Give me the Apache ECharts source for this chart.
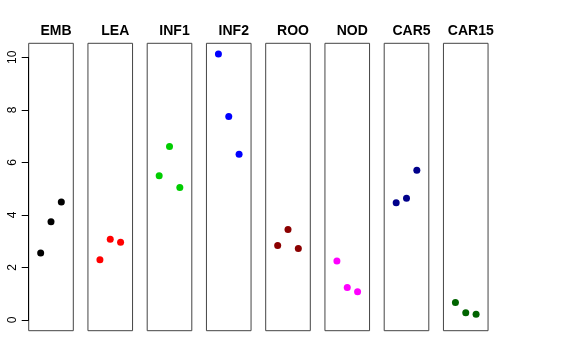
<!DOCTYPE html>
<html><head><meta charset="utf-8">
<script src="https://cdn.jsdelivr.net/npm/echarts@6/dist/echarts.min.js"></script>
<style>html,body{margin:0;padding:0;background:#fff}#c{width:576px;height:360px}</style>
</head><body><div id="c"></div>
<script>
const categories = ["EMB","LEA","INF1","INF2","ROO","NOD","CAR5","CAR15"];
const EMB   = [2.55, 3.74, 4.49];
const LEA   = [2.30, 3.08, 2.96];
const INF1  = [5.49, 6.61, 5.05];
const INF2  = [10.13, 7.75, 6.31];
const ROO   = [2.84, 3.45, 2.72];
const NOD   = [2.25, 1.24, 1.08];
const CAR5  = [4.47, 4.64, 5.70];
const CAR15 = [0.67, 0.28, 0.22];
const yTicks = [0, 2, 4, 6, 8, 10];
const colors = ["#000000","#FF0000","#00CD00","#0000FF","#8B0000","#FF00FF","#00008B","#006400"];
const seriesValues = [EMB, LEA, INF1, INF2, ROO, NOD, CAR5, CAR15];

const chart = echarts.init(document.getElementById('c'), null, {renderer:'canvas'});
const left0 = 28.7, step = 59.25, w = 44.6;
const boxTop = 43.3, boxBottom = 360 - 330.7;
const yMin = -0.405, yMax = 10.535;
const grid = [], xAxis = [], yAxis = [], series = [], title = [];
categories.forEach((cat, i) => {
  const l = left0 + step * i;
  grid.push({left: l, width: w, top: boxTop, bottom: boxBottom, show: true,
    borderColor: '#444', borderWidth: 1, backgroundColor: 'transparent', containLabel: false});
  xAxis.push({gridIndex: i, type: 'value', min: -0.16, max: 4.16, show: false});
  yAxis.push({gridIndex: i, type: 'value', min: yMin, max: yMax, show: false});
  series.push({type: 'scatter', xAxisIndex: i, yAxisIndex: i, symbol: 'circle', symbolSize: 7,
    itemStyle: {color: colors[i], opacity: 1}, silent: true,
    data: seriesValues[i].map((v, j) => [j + 1, v])});
  title.push({text: cat, left: l + w / 2, top: 19, textAlign: 'center',
    textStyle: {fontFamily: 'Liberation Sans', fontWeight: 'bold', fontSize: 14, color: '#000'}});
});
// left axis grid (0..10)
const gi = categories.length;
const yTop = 57.33, yBot = 360 - 320;
grid.push({left: left0, width: w, top: yTop, bottom: yBot, show: false});
xAxis.push({gridIndex: gi, type: 'value', min: 0, max: 1, show: false});
yAxis.push({gridIndex: gi, type: 'value', min: yTicks[0], max: yTicks[yTicks.length - 1], interval: 2,
  axisLine: {show: true, lineStyle: {color: '#000', width: 1}},
  axisTick: {show: true, length: 7, lineStyle: {color: '#000'}},
  splitLine: {show: false},
  axisLabel: {rotate: 90, margin: 10, fontFamily: 'Liberation Sans', fontSize: 12, color: '#000',
    formatter: v => yTicks.includes(v) ? String(v) : ''}});
chart.setOption({animation: false, title, grid, xAxis, yAxis, series});
</script></body></html>
